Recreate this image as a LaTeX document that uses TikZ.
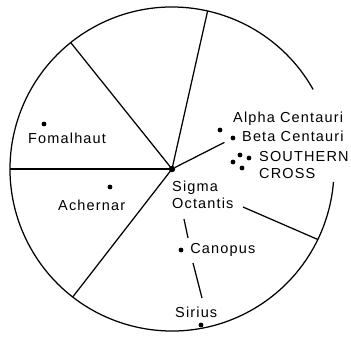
\documentclass[tikz,border=0pt]{standalone}
\usepackage{fontspec}
\setmainfont{Liberation Sans}[LetterSpace=8]
\usetikzlibrary{positioning,calc}

\begin{document}
\begin{tikzpicture}[x=1pt, y=1pt,
    font=\fontsize{14.5}{17}\selectfont,
    rim/.style={line width=1.25pt},
    spoke/.style={line width=1.25pt},
    star/.style={circle, fill, inner sep=0pt, minimum size=4.8pt},
    lbl/.style={inner sep=0pt, align=left}
  ]
  \useasboundingbox (0,-337) rectangle (351,0);
  \coordinate (pole) at (172,-169);
  % sky circle, open on the right behind the Centaurus labels
  \draw[rim] ($(pole)+(29.4:162)$) arc[start angle=29.4, end angle=355.4, radius=162];
  \foreach \a/\n in {180/w, 128.7/nw, 77.3/n, 232.2/sw, 334.2/se}
    \coordinate (rim-\n) at ($(pole)+(\a:162)$);
  \foreach \n in {w, nw, n, sw}
    \draw[spoke] (pole) -- (rim-\n);
  \node[star, minimum size=6.5pt] (octantis) at (pole) {};
  \node[lbl, anchor=north west] (octlbl) at (172,-181) {Sigma\\Octantis};

  % stars
  \node[star] (fomalhaut) at (44,-124) {};
  \node[lbl, anchor=base west] (fomlbl) at (28,-143) {Fomalhaut};
  \node[star] (achernar) at (110,-187) {};
  \node[lbl, anchor=base west] (achlbl) at (58,-210) {Achernar};
  \node[star] (alpha) at (220,-130) {};
  \node[lbl, anchor=base west] (alphalbl) at (233,-122) {Alpha Centauri};
  \node[star] (beta) at (233,-138) {};
  \node[lbl, anchor=base west] (betalbl) at (242,-142) {Beta Centauri};
  \foreach \x/\y [count=\i] in {240/155, 249/158, 233/162, 242/168}
    \node[star] (cru\i) at (\x,-\y) {};
  \node[lbl, anchor=north west] (crulbl) at (259,-151.5) {SOUTHERN\\CROSS};
  \node[star] (canopus) at (181,-250) {};
  \node[lbl, right=6.5pt of canopus] (canlbl) {Canopus};
  \node[star] (sirius) at (201,-325) {};
  \node[lbl, anchor=base west] (sirlbl) at (175,-317) {Sirius};

  % pointer lines
  \draw[spoke, shorten >=7pt] (octantis) -- (beta);
  \coordinate (oct-e) at (243,-207);
  \draw[spoke] (oct-e) -- (rim-se);
  \coordinate (gap1a) at (184,-219);
  \coordinate (gap1b) at (188,-238);
  \coordinate (gap2a) at (193,-263);
  \coordinate (gap2b) at (202,-298);
  \draw[spoke] (gap1a) -- (gap1b);
  \draw[spoke] (gap2a) -- (gap2b);
\end{tikzpicture}
\end{document}
